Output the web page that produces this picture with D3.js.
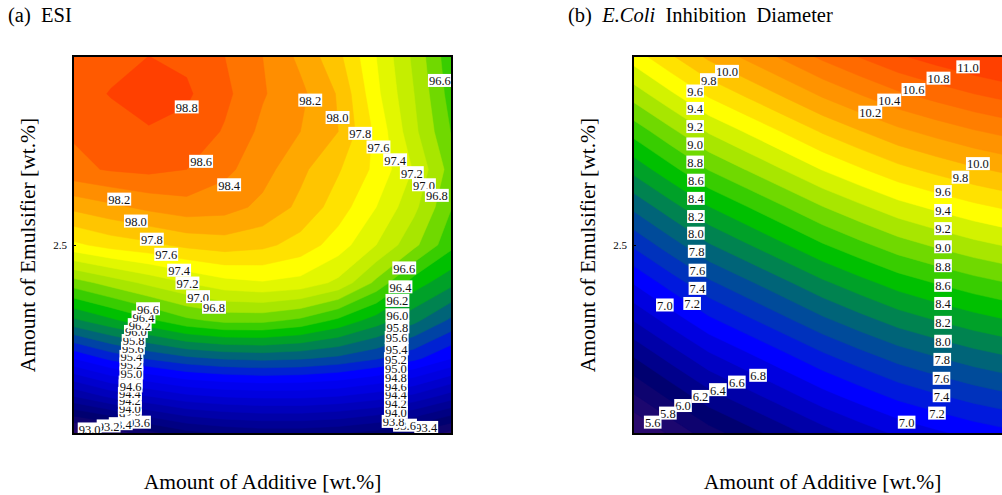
<!DOCTYPE html>
<html>
<head>
<meta charset="utf-8">
<script src="https://cdn.jsdelivr.net/npm/d3@7"></script>
<style>
  body { margin: 0; background: #fff; }
  svg { display: block; font-family: "Liberation Serif", "Times New Roman", serif; }
</style>
</head>
<body>
<svg id="chart" width="1002" height="495"></svg>
<script>
// grid coordinates (wt.%), columns left -> right, rows top -> bottom
const additive   = [0, 0.5, 1, 1.5, 2, 2.5, 3, 3.5, 4, 4.5, 5];
const emulsifier = [5, 4.5, 4, 3.5, 3, 2.5, 2, 1.5, 1, 0.5, 0];

// (a) ESI response surface
const esiGrid = [
  [98.68, 98.74, 98.80, 98.76, 98.60, 98.40, 98.15, 97.85, 97.40, 96.95, 96.45],
  [98.72, 98.81, 98.90, 98.83, 98.65, 98.42, 98.25, 97.98, 97.45, 97.00, 96.50],
  [98.62, 98.72, 98.78, 98.74, 98.58, 98.35, 98.20, 98.00, 97.55, 97.05, 96.58],
  [98.55, 98.62, 98.65, 98.60, 98.45, 98.28, 98.05, 97.82, 97.55, 97.18, 96.70],
  [98.05, 98.15, 98.25, 98.32, 98.28, 98.15, 97.95, 97.70, 97.40, 97.05, 96.60],
  [97.55, 97.68, 97.75, 97.85, 97.90, 97.85, 97.72, 97.50, 97.20, 96.85, 96.45],
  [96.70, 96.88, 97.05, 97.20, 97.33, 97.38, 97.33, 97.15, 96.75, 96.30, 96.05],
  [95.95, 96.15, 96.35, 96.55, 96.65, 96.65, 96.55, 96.35, 96.10, 95.85, 95.55],
  [95.00, 95.25, 95.42, 95.55, 95.62, 95.65, 95.62, 95.55, 95.42, 95.25, 95.00],
  [94.00, 94.25, 94.40, 94.55, 94.62, 94.65, 94.65, 94.60, 94.50, 94.35, 94.10],
  [92.85, 93.00, 93.30, 93.50, 93.60, 93.65, 93.65, 93.60, 93.50, 93.35, 93.10]
];
const esiLevels = [93.0, 93.2, 93.4, 93.6, 93.8, 94.0, 94.2, 94.4, 94.6, 94.8,
                   95.0, 95.2, 95.4, 95.6, 95.8, 96.0, 96.2, 96.4, 96.6, 96.8,
                   97.0, 97.2, 97.4, 97.6, 97.8, 98.0, 98.2, 98.4, 98.6, 98.8];
// contour labels: [level, additive, emulsifier]
const esiLabels = [
  [98.8, 1.50, 4.32], [98.6, 1.69, 3.60], [98.4, 2.06, 3.29],
  [98.2, 0.61, 3.10], [98.0, 0.83, 2.81], [97.8, 1.04, 2.57], [97.6, 1.23, 2.37],
  [97.4, 1.40, 2.16], [97.2, 1.51, 1.99], [97.0, 1.65, 1.81], [96.8, 1.86, 1.67],
  [98.2, 3.13, 4.41], [98.0, 3.49, 4.18], [97.8, 3.79, 3.97], [97.6, 4.03, 3.79],
  [97.4, 4.25, 3.62], [97.2, 4.47, 3.45], [97.0, 4.63, 3.29], [96.8, 4.80, 3.15],
  [96.6, 4.84, 4.67],
  [93.4, 4.66, 0.08], [93.6, 4.38, 0.11], [93.8, 4.23, 0.16], [94.0, 4.26, 0.28],
  [94.2, 4.26, 0.40], [94.4, 4.26, 0.52], [94.6, 4.26, 0.63], [94.8, 4.26, 0.74],
  [95.0, 4.26, 0.87], [95.2, 4.26, 0.99], [95.4, 4.27, 1.12], [95.6, 4.27, 1.27],
  [95.8, 4.28, 1.41], [96.0, 4.28, 1.57], [96.2, 4.28, 1.76], [96.4, 4.32, 1.94],
  [96.6, 4.37, 2.19],
  [93.8, 0.75, 0.24], [94.0, 0.75, 0.34], [94.2, 0.75, 0.44], [94.4, 0.75, 0.53],
  [94.8, 0.76, 0.68], [94.6, 0.76, 0.63], [95.0, 0.77, 0.80], [95.2, 0.77, 0.92],
  [95.4, 0.77, 1.02], [95.6, 0.79, 1.13], [95.8, 0.80, 1.23], [96.0, 0.83, 1.35],
  [96.2, 0.88, 1.44], [96.4, 0.93, 1.54], [96.6, 0.99, 1.65],
  [93.6, 0.87, 0.15], [93.4, 0.63, 0.13], [93.2, 0.47, 0.10], [93.0, 0.22, 0.06]
];

// (b) E.Coli inhibition diameter
const ecoliGrid = [
  [9.50, 9.78, 10.05, 10.25, 10.45, 10.65, 10.82, 10.98, 11.10, 11.21, 11.30],
  [9.09, 9.37,  9.64,  9.84, 10.04, 10.24, 10.41, 10.57, 10.69, 10.80, 10.89],
  [8.67, 8.95,  9.22,  9.42,  9.62,  9.82,  9.99, 10.15, 10.27, 10.38, 10.47],
  [8.26, 8.54,  8.81,  9.01,  9.21,  9.41,  9.58,  9.74,  9.86,  9.97, 10.06],
  [7.84, 8.12,  8.39,  8.59,  8.79,  8.99,  9.16,  9.32,  9.44,  9.55,  9.64],
  [7.43, 7.71,  7.98,  8.18,  8.38,  8.58,  8.75,  8.91,  9.03,  9.14,  9.23],
  [7.01, 7.29,  7.56,  7.76,  7.96,  8.16,  8.33,  8.49,  8.61,  8.72,  8.81],
  [6.60, 6.88,  7.15,  7.35,  7.55,  7.75,  7.92,  8.08,  8.20,  8.31,  8.40],
  [6.18, 6.46,  6.73,  6.93,  7.13,  7.33,  7.50,  7.66,  7.78,  7.89,  7.98],
  [5.77, 6.05,  6.32,  6.52,  6.72,  6.92,  7.09,  7.25,  7.37,  7.48,  7.57],
  [5.35, 5.63,  5.90,  6.10,  6.30,  6.50,  6.67,  6.83,  6.95,  7.06,  7.15]
];
const ecoliLevels = [5.6, 5.8, 6.0, 6.2, 6.4, 6.6, 6.8, 7.0, 7.2, 7.4,
                     7.6, 7.8, 8.0, 8.2, 8.4, 8.6, 8.8, 9.0, 9.2, 9.4,
                     9.6, 9.8, 10.0, 10.2, 10.4, 10.6, 10.8, 11.0];
const ecoliLabels = [
  [10.0, 1.24, 4.79], [9.8, 1.00, 4.68], [9.6, 0.82, 4.53], [9.4, 0.82, 4.30],
  [9.2, 0.82, 4.06], [9.0, 0.82, 3.83], [8.8, 0.82, 3.59], [8.6, 0.83, 3.35],
  [8.4, 0.83, 3.11], [8.2, 0.83, 2.87], [8.0, 0.83, 2.65], [7.8, 0.84, 2.41],
  [7.6, 0.85, 2.16], [7.4, 0.85, 1.92], [7.2, 0.78, 1.72], [7.0, 0.42, 1.70],
  [6.8, 1.65, 0.77], [6.6, 1.37, 0.68], [6.4, 1.12, 0.58], [6.2, 0.89, 0.49],
  [6.0, 0.66, 0.37], [5.8, 0.46, 0.27], [5.6, 0.26, 0.15],
  [11.0, 4.42, 4.85], [10.8, 4.03, 4.70], [10.6, 3.70, 4.55], [10.4, 3.38, 4.41],
  [10.2, 3.13, 4.25],
  [10.0, 4.55, 3.57], [9.8, 4.32, 3.39], [9.6, 4.09, 3.20], [9.4, 4.09, 2.95],
  [9.2, 4.09, 2.71], [9.0, 4.09, 2.47], [8.8, 4.09, 2.22], [8.6, 4.09, 1.96],
  [8.4, 4.09, 1.72], [8.2, 4.09, 1.47], [8.0, 4.09, 1.22], [7.8, 4.08, 0.98],
  [7.6, 4.07, 0.73], [7.4, 4.07, 0.50], [7.2, 4.01, 0.27], [7.0, 3.61, 0.15]
];

const yTicks = [2.5];

// palette (style)
const paletteColors = ['#2a0a6e', '#000070', '#0000e0', '#0000ff', '#006478', '#00c000',
                       '#a8e600', '#ffff00', '#ffa800', '#ff7400', '#ff4000'];
const esiStops   = [92.9, 93.5, 94.7, 95.1, 95.7, 96.3, 96.9, 97.5, 98.1, 98.5, 98.9];
const ecoliStops = [5.5, 6.1, 6.9, 7.1, 7.9, 8.5, 9.1, 9.5, 10.1, 10.6, 11.1];

(function() {
  'use strict';

  const svg = d3.select('#chart'),
        W = 379, H = 378, TOP = 56;

  svg.append('rect').attr('width', 1002).attr('height', 495).attr('fill', '#fff');

  const drawPanel = (cfg) => {
    const g = svg.append('g').attr('transform', `translate(${cfg.left},${TOP})`);

    const x = d3.scaleLinear().domain([0, 5]).range([0, W]),
          y = d3.scaleLinear().domain([0, 5]).range([H, 0]),
          n = cfg.grid[0].length,
          m = cfg.grid.length,
          // contour grid coords -> pixels (grid node k sits at k + 0.5)
          gx = d3.scaleLinear().domain([0.5, n - 0.5]).range([x(additive[0]), x(additive[n - 1])]),
          gy = d3.scaleLinear().domain([0.5, m - 0.5]).range([y(emulsifier[0]), y(emulsifier[m - 1])]),
          path = d3.geoPath(d3.geoTransform({
            point(px, py) { this.stream.point(gx(px), gy(py)); }
          })),
          color = d3.scaleLinear().domain(cfg.stops).range(paletteColors).clamp(true);

    const clipId = 'clip-' + cfg.id;
    g.append('clipPath').attr('id', clipId)
      .append('rect').attr('width', W).attr('height', H);

    const body = g.append('g').attr('clip-path', `url(#${clipId})`);

    // lowest band
    body.append('rect')
      .attr('width', W).attr('height', H)
      .attr('fill', color(cfg.levels[0] - 0.1));

    const bands = d3.contours()
      .size([n, m])
      .thresholds(cfg.levels)(cfg.grid.flat());

    body.selectAll('path.band')
      .data(bands)
      .join('path')
        .attr('class', 'band')
        .attr('d', path)
        .attr('fill', d => color(d.value + 0.1))
        .attr('stroke', d => color(d.value + 0.1))
        .attr('stroke-width', 0.5);

    // contour labels
    const lab = body.selectAll('g.lab')
      .data(cfg.labels)
      .join('g')
        .attr('class', 'lab')
        .attr('transform', d => `translate(${x(d[1])},${y(d[2])})`);

    lab.append('rect').attr('fill', '#fff');
    lab.append('text')
      .attr('text-anchor', 'middle')
      .attr('dy', '0.35em')
      .attr('font-size', 12.5)
      .attr('fill', '#111')
      .text(d => d3.format('.1f')(d[0]));

    lab.each(function() {
      const t = d3.select(this).select('text').node(),
            w = t.getComputedTextLength() + 2;
      d3.select(this).select('rect')
        .attr('x', -w / 2).attr('y', -7).attr('width', w).attr('height', 13);
    });

    // frame
    g.append('rect')
      .attr('width', W).attr('height', H)
      .attr('fill', 'none')
      .attr('stroke', '#000')
      .attr('stroke-width', 2);

    // y axis: only the 2.5 tick
    const ax = g.append('g')
      .call(d3.axisLeft(y).tickValues(yTicks).tickSizeInner(-3).tickSizeOuter(0)
        .tickPadding(6).tickFormat(d3.format('.1f')));
    ax.select('.domain').remove();
    ax.selectAll('text')
      .attr('font-family', '"Liberation Serif", serif')
      .attr('font-size', 11)
      .attr('fill', '#000');

    // axis titles
    g.append('text')
      .attr('x', W / 2).attr('y', 433)
      .attr('text-anchor', 'middle')
      .attr('font-size', 21.5)
      .text('Amount of Additive [wt.%]');

    g.append('text')
      .attr('transform', `translate(${-38},${H / 2}) rotate(-90)`)
      .attr('text-anchor', 'middle')
      .attr('font-size', 21.5)
      .text('Amount of Emulsifier [wt.%]');

    // panel title
    const title = svg.append('text')
      .attr('x', cfg.left - 65).attr('y', 22)
      .attr('font-size', 20.5)
      .attr('xml:space', 'preserve')
      .style('white-space', 'pre');
    cfg.title.forEach(part => {
      title.append('tspan')
        .attr('font-style', part.italic ? 'italic' : null)
        .text(part.text);
    });
  };

  drawPanel({
    id: 'esi', left: 73, grid: esiGrid, levels: esiLevels, labels: esiLabels, stops: esiStops,
    title: [{ text: '(a)  ESI' }]
  });

  drawPanel({
    id: 'ecoli', left: 633, grid: ecoliGrid, levels: ecoliLevels, labels: ecoliLabels, stops: ecoliStops,
    title: [{ text: '(b)  ' }, { text: 'E.Coli', italic: true }, { text: '  Inhibition  Diameter' }]
  });
})();
</script>
</body>
</html>
